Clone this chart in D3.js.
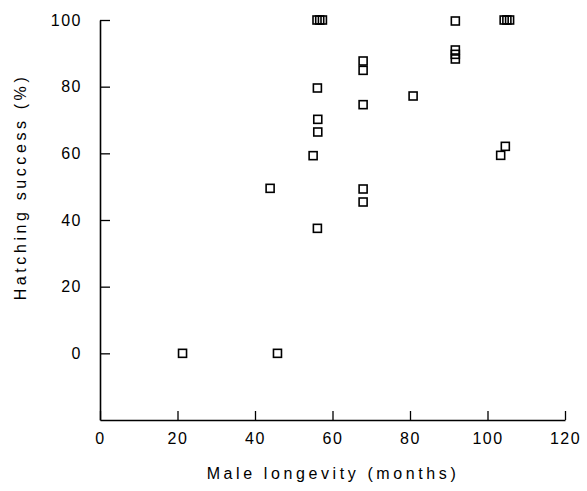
<!DOCTYPE html>
<html>
<head>
<meta charset="utf-8">
<script src="https://cdn.jsdelivr.net/npm/d3@7"></script>
<style>
  html, body { margin: 0; padding: 0; background: #fff; }
  svg { display: block; }
  text { font-family: "Liberation Sans", Arial, sans-serif; fill: #000; }
</style>
</head>
<body>
<svg id="chart" width="587" height="491"></svg>
<script>
// Male longevity (months)
const longevity = [21.3, 45.8, 43.9, 55.0, 56.0, 56.7, 57.4, 56.1, 56.2, 56.2, 56.1,
                   67.9, 67.9, 67.9, 67.9, 67.9, 80.8, 91.7, 91.7, 91.7, 91.7,
                   104.3, 105.0, 105.7, 104.6, 103.4];
// Hatching success (%)
const hatching = [0, 0, 49.5, 59.3, 100, 100, 100, 79.6, 70.2, 66.4, 37.5,
                  87.7, 84.9, 74.6, 49.3, 45.4, 77.2, 99.7, 91.0, 89.7, 88.3,
                  100, 100, 100, 62.1, 59.4];
const xTicks = [0, 20, 40, 60, 80, 100, 120];
const yTicks = [0, 20, 40, 60, 80, 100];
const xTitle = "Male longevity (months)";
const yTitle = "Hatching success (%)";

const svg = d3.select("#chart");
const x = d3.scaleLinear().domain([0, 120]).range([100, 565]);
const y = d3.scaleLinear().domain([-20, 100]).range([420, 20]);

const xAxis = svg.append("g")
  .attr("transform", `translate(0,${y(-20)})`)
  .call(d3.axisBottom(x).tickValues(xTicks).tickFormat(d3.format("d"))
        .tickSizeInner(-9).tickSizeOuter(0).tickPadding(13));
const yAxis = svg.append("g")
  .attr("transform", `translate(${x(0)},0)`)
  .call(d3.axisLeft(y).tickValues(yTicks).tickFormat(d3.format("d"))
        .tickSizeInner(-10).tickSizeOuter(0).tickPadding(18));

[xAxis, yAxis].forEach(g => {
  g.select(".domain").attr("stroke", "#000").attr("stroke-width", 1.6);
  g.selectAll(".tick line").attr("stroke", "#000").attr("stroke-width", 1.3);
  g.selectAll(".tick text")
    .attr("fill", "#000")
    .style("font-size", "16px")
    .style("letter-spacing", "1.5px")
    .style("font-family", "'Liberation Sans', Arial, sans-serif");
});

// points
const s = 8;
svg.append("g").selectAll("rect")
  .data(longevity.map((v, i) => [v, hatching[i]]))
  .join("rect")
  .attr("x", d => x(d[0]) - s / 2)
  .attr("y", d => y(d[1]) - s / 2)
  .attr("width", s)
  .attr("height", s)
  .attr("fill", "none")
  .attr("stroke", "#000")
  .attr("stroke-width", 1.6);

svg.append("text")
  .attr("x", 333)
  .attr("y", 479)
  .attr("text-anchor", "middle")
  .style("font-size", "16px")
  .style("letter-spacing", "3.6px")
  .text(xTitle);

svg.append("text")
  .attr("transform", "translate(26,187) rotate(-90)")
  .attr("text-anchor", "middle")
  .style("font-size", "16px")
  .style("letter-spacing", "3.6px")
  .text(yTitle);
</script>
</body>
</html>
